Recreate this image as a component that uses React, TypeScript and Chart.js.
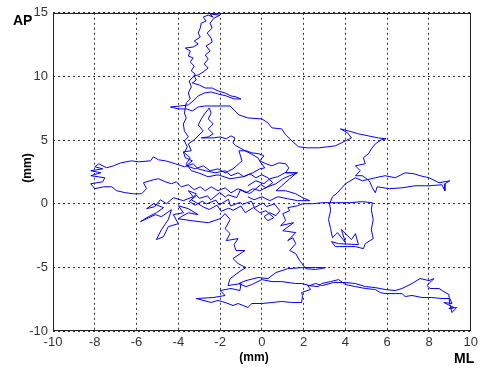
import React, { useEffect, useRef } from "react";
import { Chart, registerables } from "chart.js";
Chart.register(...registerables);

// ML (mm) - horizontal displacement
const mlValues = [
  -0.67,-0.29,0.10,0.38,0.76,1.10,1.48,1.71,1.33,1.00,
  0.67,0.29,-0.10,-0.43,-0.76,-1.14,-1.48,-1.76,-2.10,-2.43,
  -2.71,-2.95,-3.24,-3.52,-3.86,-4.10,-4.33,-4.62,-4.95,-5.19,
  -5.67,-5.52,-5.76,-6.14,-6.52,-6.95,-7.19,-7.57,-8.00,-8.19,
  -7.62,-7.52,-8.19,-7.71,-8.19,-7.62,-8.00,-7.81,-7.43,-7.10,
  -6.76,-6.24,-5.90,-5.33,-5.19,-4.95,-4.62,-4.14,-3.71,-3.29,
  -3.05,-2.71,-2.24,-1.76,-1.48,-1.14,-0.86,-0.57,-0.29,0.00,
  0.29,0.52,0.19,-0.05,-0.45,-0.60,-1.02,-1.20,-1.62,-1.75,
  -2.02,-2.45,-2.60,-3.00,-3.12,-3.48,-3.20,-2.85,-2.66,-2.20,
  -2.05,-1.60,-1.50,-1.05,-0.92,-0.50,-0.35,0.05,0.22,0.60,
  0.86,0.67,0.38,0.10,0.29,0.57,0.19,-0.10,-0.40,-0.80,
  -1.00,-1.38,-1.58,-1.95,-2.15,-2.52,-2.78,-3.05,-3.38,-3.14,
  -3.52,-3.29,-3.76,-4.24,-4.57,-4.86,-5.14,-5.52,-5.19,-4.71,
  -5.05,-5.43,-5.81,-5.10,-4.81,-4.33,-4.48,-4.81,-5.05,-4.71,
  -4.48,-4.00,-4.24,-3.76,-4.00,-3.52,-3.05,-3.52,-3.86,-4.00,
  -3.38,-2.57,-2.00,-1.76,-1.52,-1.76,-1.52,-1.71,-1.14,-1.33,
  -1.24,-0.81,-1.38,-1.14,-0.76,-1.00,-1.52,-1.62,-1.00,-1.05,
  -1.48,-2.00,-1.76,-2.33,-3.14,-2.43,-2.10,-1.76,-1.38,-1.14,
  -0.67,-0.48,0.00,0.48,0.95,1.43,1.90,1.95,1.90,2.33,
  2.19,2.71,2.86,3.29,3.67,4.00,4.48,4.95,5.43,5.67,
  5.90,6.38,6.71,6.86,7.19,7.67,8.14,8.62,9.00,9.10,
  8.71,9.19,8.95,9.33,9.10,9.00,8.95,8.62,8.48,8.05,
  7.90,8.24,8.00,7.57,7.19,6.71,6.38,5.90,5.43,4.95,
  4.48,4.00,3.43,2.90,2.57,2.29,1.90,1.62,0.95,0.48,
  0.00,-0.48,-0.76,-1.10,-0.76,-0.19,0.29,0.67,1.24,1.95,
  2.57,3.05,2.57,2.10,1.81,1.62,1.33,1.62,1.48,1.24,
  1.62,1.00,1.52,0.90,1.14,1.00,1.33,1.24,1.71,1.95,
  2.43,2.90,3.52,4.19,4.81,5.29,5.24,5.33,5.24,5.33,
  4.95,4.86,4.48,3.52,3.33,3.67,4.62,4.48,4.29,3.81,
  4.00,3.62,3.38,3.29,3.19,3.29,3.24,3.38,3.62,4.00,
  4.48,4.81,5.43,5.90,6.38,6.86,7.29,7.57,8.00,8.48,
  9.00,8.76,8.76,8.62,8.00,7.33,6.71,6.10,5.52,5.43,
  5.29,5.14,4.81,4.48,4.71,4.48,4.95,4.86,5.10,5.24,
  5.43,5.71,5.95,5.57,5.10,4.62,4.14,3.76,4.10,4.29,
  4.00,3.52,3.14,2.71,2.19,1.76,1.43,1.14,0.95,0.48,
  0.29,0.00,-0.67,-1.10,-1.29,-1.52,-2.10,-2.48,-2.71,-3.05,
  -3.33,-3.62,-4.00,-4.38,-3.90,-3.52,-3.24,-3.05,-2.76,-2.43,
  -2.10,-1.71,-1.33,-1.00,-1.24,-1.48,-1.76,-2.10,-2.38,-2.71,
  -3.00,-3.33,-3.14,-3.24,-3.05,-2.81,-2.57,-2.76,-2.57,-2.71,
  -2.48,-2.67,-2.38,-2.43,-2.62,-2.38,-2.48,-2.29,-2.00,-2.48,
  -2.33,-2.57,-2.81,-2.67,-2.90,-2.95,-3.05,-2.95,-3.24,-3.05,
  -3.29,-3.67,-3.43,-3.52,-3.29,-3.43,-3.24,-3.38,-3.19,-3.29,
  -3.48,-3.38,-3.52,-3.43,-3.62,-3.71,-3.62,-3.76,-3.71,-3.52,
  -3.71,-3.57,-3.71,-3.43,-3.62,-3.38,-3.05,-2.57,-2.10,-1.52,
  -0.90,-0.43,-0.10,0.14,-0.05,-0.19,-0.52,-0.81,-1.05,-1.24,
  -1.38,-1.29,-1.48,-1.71,-2.00,-2.33,-2.90,-2.57,-2.33,-2.57,
  -2.33,-2.57,-2.43,-2.52,-2.71,-2.90,-3.05,-2.81,-3.05,-3.24,
  -3.52,-3.38,-3.76,-3.67,-3.33,-3.62,-3.19,-2.81,-2.48,-2.10,
  -1.76,-1.38,-0.95,-1.10,-0.76,-0.48,-0.14,0.10,-0.10,0.19,
  0.48,0.81,1.14,1.29,1.14,1.67,1.33,0.95,0.67,1.14,
  1.62,1.95,2.29,1.71,1.24,0.76,0.38,0.00,-0.38,-0.67,
];

// AP (mm) - vertical displacement
const apValues = [
  1.41,1.80,1.57,1.96,2.12,2.43,2.43,2.43,2.20,1.96,
  1.57,1.33,1.02,1.18,0.86,1.18,0.86,1.25,1.02,1.33,
  1.02,1.33,1.10,1.49,1.33,1.72,1.57,1.72,1.96,1.88,
  1.65,1.18,0.78,0.78,0.86,1.02,1.33,1.33,1.18,1.57,
  1.72,2.04,2.20,2.43,2.59,2.74,2.90,3.14,2.82,2.98,
  3.21,3.37,3.29,3.37,3.68,3.45,3.37,3.14,2.90,3.14,
  2.74,2.59,2.43,2.59,2.20,2.43,2.12,2.35,2.04,2.27,
  2.04,1.65,1.25,1.50,0.95,0.80,1.12,0.48,0.70,0.52,
  0.88,0.30,0.62,0.42,0.66,0.18,-0.12,0.20,-0.02,0.28,
  -0.10,0.35,-0.18,0.10,-0.05,0.20,-0.30,0.06,-0.22,-0.02,
  -0.55,-0.94,-0.71,-1.02,-1.33,-1.10,-0.55,-0.71,-0.30,-0.70,
  -0.18,-0.52,-0.35,-0.60,-0.12,-0.45,-0.28,0.00,0.31,0.78,
  1.02,0.55,0.24,0.47,0.00,0.31,-0.24,-0.39,0.00,-0.31,
  -0.71,-1.02,-1.41,-0.86,-1.02,-0.47,-1.25,-2.04,-2.82,-2.59,
  -1.80,-1.57,-0.86,-0.71,-0.16,-0.39,-0.86,-0.71,-1.02,-1.18,
  -1.33,-1.49,-1.18,-0.78,-1.25,-1.96,-2.35,-2.90,-2.74,-3.21,
  -3.68,-3.68,-4.31,-4.70,-5.02,-5.25,-5.88,-6.43,-6.27,-6.82,
  -6.66,-6.82,-7.21,-7.37,-7.45,-7.76,-7.60,-7.76,-8.00,-7.84,
  -8.15,-7.84,-7.84,-7.76,-7.68,-7.76,-7.76,-7.21,-6.98,-6.74,
  -6.43,-6.51,-6.27,-6.12,-5.96,-6.35,-6.51,-6.66,-6.74,-6.98,
  -7.06,-7.06,-7.06,-7.29,-7.21,-7.37,-7.37,-7.45,-7.45,-7.84,
  -7.76,-8.15,-8.23,-8.15,-8.55,-7.92,-7.13,-6.82,-6.66,-6.66,
  -6.43,-5.88,-6.04,-5.88,-6.27,-6.66,-6.82,-6.74,-6.59,-6.51,
  -6.27,-6.19,-6.19,-6.43,-6.27,-6.43,-6.27,-6.27,-6.12,-6.12,
  -5.96,-6.35,-6.51,-6.27,-6.04,-5.80,-5.88,-5.41,-5.10,-5.02,
  -5.02,-5.02,-5.17,-5.10,-4.47,-3.92,-3.68,-3.14,-2.67,-2.90,
  -2.27,-2.12,-1.49,-1.72,-1.33,-0.78,-0.55,-0.31,-0.16,0.00,
  0.00,0.08,0.08,0.08,0.16,0.08,-0.47,-1.25,-2.04,-2.74,
  -3.14,-3.53,-3.37,-3.37,-2.98,-3.14,-3.21,-2.35,-2.82,-2.04,
  -3.06,-2.27,-2.67,-1.96,-1.25,-0.55,0.00,0.55,0.86,1.57,
  2.04,1.80,2.04,2.20,2.04,2.43,2.35,2.20,2.04,1.65,
  1.80,1.57,1.02,1.49,1.41,1.41,1.25,1.18,1.33,0.86,
  1.25,1.80,2.20,2.20,2.59,2.98,3.14,3.61,3.92,4.31,
  4.70,5.02,5.10,5.17,5.33,5.49,5.72,5.88,5.57,5.17,
  4.94,4.55,4.47,4.39,4.39,4.47,4.94,5.41,5.88,5.96,
  6.35,6.66,6.74,6.98,7.29,7.68,7.68,7.68,7.68,7.60,
  7.29,7.45,7.45,7.60,7.68,7.76,8.15,8.47,8.70,8.78,
  8.62,8.47,8.23,8.23,8.39,8.47,8.70,8.86,9.09,9.09,
  9.33,9.49,9.72,10.04,10.11,10.35,10.66,10.98,11.37,11.68,
  12.00,12.39,12.70,13.01,13.41,13.80,14.19,14.58,14.82,14.90,
  14.66,14.82,14.66,14.35,14.19,13.80,13.41,13.09,12.78,12.54,
  12.31,12.23,12.00,11.60,11.45,11.13,10.82,10.43,10.19,9.96,
  9.64,9.17,8.70,8.23,7.92,7.13,6.74,6.27,5.72,5.25,
  4.94,4.47,4.00,3.61,3.14,2.59,2.43,2.12,2.27,1.96,
  2.12,2.43,2.74,2.82,3.21,3.61,3.92,4.16,4.39,4.55,
  4.78,5.17,5.33,5.10,5.25,5.17,5.17,5.25,5.49,5.88,
  6.27,6.66,7.13,7.52,7.13,6.66,6.19,5.72,5.33,5.02,
  4.70,4.16,4.08,3.61,3.37,2.98,2.74,2.98,2.59,2.74,
  2.43,2.74,3.37,4.16,4.16,4.00,3.92,3.76,3.37,3.14,
  2.98,3.21,3.14,2.82,2.43,2.43,1.96,1.41,1.02,1.02,
  0.78,0.47,0.24,0.24,0.39,0.55,0.24,0.55,0.31,0.55,
];

const xTickValues = [-10, -8, -6, -4, -2, 0, 2, 4, 6, 8, 10];
const yTickValues = [-10, -5, 0, 5, 10, 15];

const FONT = "'Liberation Sans', Arial, Helvetica, sans-serif";

export default function App() {
  const canvasRef = useRef<HTMLCanvasElement | null>(null);

  useEffect(() => {
    document.body.style.margin = "0";
    const canvas = canvasRef.current;
    if (!canvas) return;

    const n = Math.min(mlValues.length, apValues.length);
    const points = [];
    for (let i = 0; i < n; i++) points.push({ x: mlValues[i], y: apValues[i] });

    const framePlugin = {
      id: "frameAndLabels",
      afterDraw(chart: any) {
        const { ctx, chartArea: a } = chart;
        ctx.save();
        ctx.strokeStyle = "#222";
        ctx.lineWidth = 1;
        ctx.setLineDash([]);
        const l = Math.round(a.left) + 0.5;
        const t = Math.round(a.top) + 0.5;
        const r = Math.round(a.right) - 0.5;
        const b = Math.round(a.bottom) - 0.5;
        ctx.strokeRect(l, t, r - l, b - t);

        ctx.fillStyle = "#000";
        ctx.font = `bold 14px ${FONT}`;
        ctx.textAlign = "left";
        ctx.textBaseline = "alphabetic";
        ctx.fillText("AP", 13, 25);
        ctx.fillText("ML", 454, 363);

        ctx.font = `bold 12px ${FONT}`;
        ctx.textAlign = "center";
        ctx.textBaseline = "middle";
        ctx.fillText("(mm)", 254, 358);

        ctx.translate(28, 168);
        ctx.rotate(-Math.PI / 2);
        ctx.fillText("(mm)", 0, 0);
        ctx.restore();
      },
    };

    const chart = new Chart(canvas, {
      type: "scatter",
      data: {
        datasets: [
          {
            data: points,
            showLine: true,
            borderColor: "#0000ff",
            borderWidth: 1,
            pointRadius: 0,
            pointHoverRadius: 0,
            fill: false,
            tension: 0,
          },
        ],
      },
      options: {
        responsive: false,
        animation: false,
        devicePixelRatio: 1,
        layout: { padding: { left: 0, right: 7, top: 12, bottom: 0 } },
        plugins: {
          legend: { display: false },
          tooltip: { enabled: false },
          title: { display: false },
        },
        scales: {
          x: {
            type: "linear",
            min: -10,
            max: 10,
            afterBuildTicks: (s: any) => {
              s.ticks = xTickValues.map((v) => ({ value: v }));
            },
            afterFit: (s: any) => {
              s.height = 41;
            },
            grid: {
              color: "#333",
              lineWidth: 1,
              drawTicks: false,
            },
            border: { display: false, dash: [2, 3] },
            ticks: {
              padding: 4,
              color: "#333",
              font: { family: FONT, size: 13 },
              maxRotation: 0,
              autoSkip: false,
            },
          },
          y: {
            type: "linear",
            min: -10,
            max: 15,
            afterBuildTicks: (s: any) => {
              s.ticks = yTickValues.map((v) => ({ value: v }));
            },
            afterFit: (s: any) => {
              s.width = 53;
            },
            grid: {
              color: "#333",
              lineWidth: 1,
              drawTicks: false,
            },
            border: { display: false, dash: [2, 3] },
            ticks: {
              padding: 5,
              color: "#333",
              font: { family: FONT, size: 13 },
              autoSkip: false,
            },
          },
        },
      },
      plugins: [framePlugin],
    });

    return () => {
      chart.destroy();
    };
  }, []);

  return (
    <div style={{ width: 482, height: 372, background: "#fff" }}>
      <canvas ref={canvasRef} width={482} height={372} style={{ display: "block" }} />
    </div>
  );
}
